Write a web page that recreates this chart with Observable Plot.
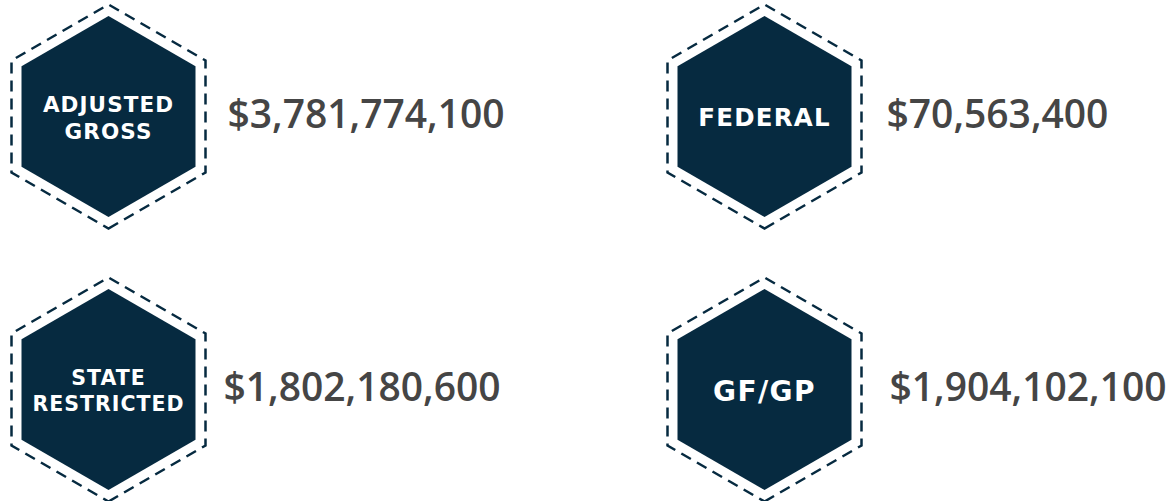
<!DOCTYPE html>
<html>
<head>
<meta charset="utf-8">
<script src="https://cdn.jsdelivr.net/npm/d3@7"></script>
<script src="https://cdn.jsdelivr.net/npm/@observablehq/plot@0.6"></script>
<style>
  html, body { margin: 0; padding: 0; background: #ffffff; }
  #chart svg { display: block; }
</style>
</head>
<body>
<div id="chart"></div>
<script>
// Data
const categories = ["ADJUSTED\nGROSS", "FEDERAL", "STATE\nRESTRICTED", "GF/GP"];
const amounts = [3781774100, 70563400, 1802180600, 1904102100];
const gridCol = [0, 1, 0, 1];
const gridRow = [0, 0, 1, 1];

// Styles
const navy = "#062a40";
const labelSizes = [21.5, 24.5, 20.5, 28];
const valueOffsets = [119, 122, 115, 125];

const data = categories.map((c, i) => ({
  label: c,
  value: amounts[i],
  col: gridCol[i],
  row: gridRow[i],
  size: labelSizes[i],
  i
}));

const fmt = d3.format("$,.0f");

const valueMarks = data.map(d =>
  Plot.text([d], {
    x: "col", y: "row",
    text: v => fmt(v.value),
    textAnchor: "start",
    dx: valueOffsets[d.i],
    dy: -1,
    fontSize: 39,
    fontWeight: 600,
    fontFamily: "Open Sans",
    fill: "#454545"
  })
);

const chart = Plot.plot({
  width: 1176,
  height: 501,
  margin: 0,
  style: { background: "#ffffff" },
  x: { domain: [0, 1], range: [108, 764], axis: null },
  y: { domain: [0, 1], range: [116, 389], axis: null },
  marks: [
    Plot.dot(data, {
      x: "col", y: "row", symbol: "hexagon", r: 97,
      fill: "none", stroke: navy, strokeWidth: 2.5,
      strokeDasharray: "11,7"
    }),
    Plot.dot(data, {
      x: "col", y: "row", symbol: "hexagon", r: 87,
      fill: navy, stroke: "none"
    }),
    Plot.text(data, {
      x: "col", y: "row", text: "label",
      fontSize: "size",
      fontFamily: "DejaVu Sans",
      fontWeight: "bold",
      lineHeight: 1.27,
      fill: "#ffffff",
      style: "letter-spacing: 0.05em"
    }),
    ...valueMarks
  ]
});

chart.querySelectorAll("text").forEach(t => {
  if (t.getAttribute("fill") === "#ffffff" || t.parentNode.getAttribute("fill") === "#ffffff") {
    t.style.letterSpacing = "0.05em";
  }
});

document.getElementById("chart").appendChild(chart);
</script>
</body>
</html>
